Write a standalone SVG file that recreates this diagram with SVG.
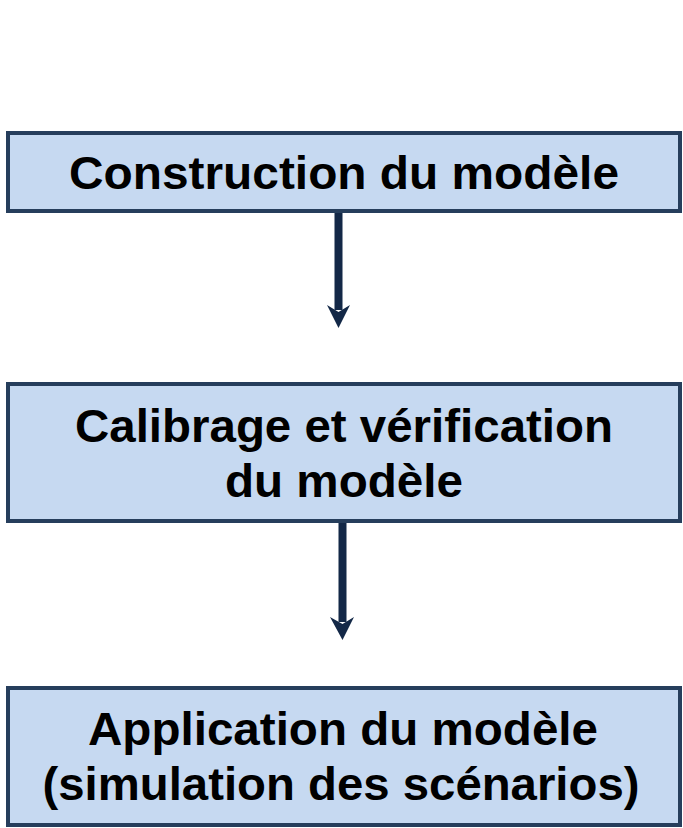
<svg xmlns="http://www.w3.org/2000/svg" width="683" height="828" viewBox="0 0 683 828">
<defs>
<style>
.box{fill:#c6d9f1;stroke:#263e5c;stroke-width:4}
.t{font-family:"Liberation Sans",Arial,sans-serif;font-weight:bold;font-size:47px;fill:#000;text-anchor:middle}
.c{stroke:#132847;stroke-width:8;fill:none}
.h{fill:#132847}
</style>
</defs>
<g id="connectors">
<line class="c" x1="338.5" y1="212" x2="338.5" y2="310"/>
<path class="h" d="M327,305 L338.5,312 L350,305 L338.5,328 Z"/>
<line class="c" x1="342.5" y1="523" x2="342.5" y2="622"/>
<path class="h" d="M330,617 L342.5,624 L354,617 L342.5,640 Z"/>
</g>
<g id="node1">
<rect class="box" x="8" y="133" width="672" height="78"/>
<text class="t" x="344" y="189" textLength="550" lengthAdjust="spacingAndGlyphs">Construction du modèle</text>
</g>
<g id="node2">
<rect class="box" x="8" y="384" width="672" height="137"/>
<text class="t" x="344" y="442" textLength="538" lengthAdjust="spacingAndGlyphs">Calibrage et vérification</text>
<text class="t" x="344" y="497" textLength="238" lengthAdjust="spacingAndGlyphs">du modèle</text>
</g>
<g id="node3">
<rect class="box" x="8" y="688" width="672" height="137"/>
<text class="t" x="343" y="745" textLength="510" lengthAdjust="spacingAndGlyphs">Application du modèle</text>
<text class="t" x="341" y="800" textLength="597" lengthAdjust="spacingAndGlyphs">(simulation des scénarios)</text>
</g>
</svg>
